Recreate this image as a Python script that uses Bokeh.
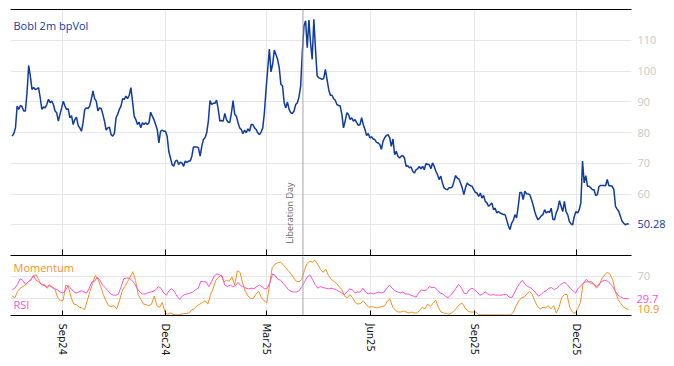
import pandas as pd
from bokeh.plotting import figure
from bokeh.layouts import column
from bokeh.models import (Span, Label, FixedTicker, MonthsTicker, DatetimeTickFormatter,
                          DatetimeAxis, LinearAxis, Range1d, CustomJSTickFormatter, PrintfTickFormatter)
from bokeh.embed import file_html
from bokeh.resources import INLINE

# ---------------- data ----------------
START = "2024-07-18"
END = "2026-01-16"
LIBERATION_DAY = "2025-04-02"

vol = [78.8, 79.7, 81.5, 88.6, 87.5, 88.8, 88.4, 87.0, 87.0, 93.0, 101.8, 98.4, 94.0, 94.6, 94.0, 94.2, 94.6, 91.3,
       87.5, 88.3, 88.0, 89.1, 90.8, 89.7, 90.2, 89.1, 87.0, 86.4, 83.7, 85.9, 88.0, 90.2, 88.6, 87.5, 87.7, 84.8,
       85.5, 82.6, 84.2, 85.0, 82.3, 81.5, 80.4, 83.2, 87.5, 88.0, 87.8, 88.6, 90.8, 93.5, 91.0, 90.2, 87.0, 88.0,
       87.8, 85.9, 83.7, 80.8, 81.5, 81.7, 79.3, 78.8, 79.7, 84.8, 85.9, 87.5, 88.6, 91.0, 90.8, 91.8, 91.0, 92.1,
       94.6, 90.2, 85.3, 84.2, 82.6, 83.4, 81.5, 83.2, 82.6, 83.2, 82.6, 83.2, 86.6, 85.3, 84.2, 82.6, 81.0, 76.6,
       80.4, 80.8, 80.4, 80.4, 78.8, 73.9, 71.7, 69.6, 69.0, 70.7, 71.0, 69.6, 70.3, 70.1, 69.0, 70.7, 70.3, 70.7,
       70.7, 72.3, 75.3, 75.3, 75.3, 75.0, 72.3, 75.5, 77.7, 78.3, 79.9, 83.7, 90.4, 89.1, 89.5, 89.5,
       90.5, 87.5, 83.7, 83.9, 83.7, 86.2, 84.2, 83.4, 83.2, 86.4, 90.4, 85.9, 85.3, 83.2, 81.5, 81.0, 79.6, 80.8,
       79.9, 81.2, 80.4, 82.6, 82.6, 81.5, 81.0, 79.9, 79.3, 80.1, 81.5, 86.4, 94.0, 100.5, 107.1, 99.7, 102.2,
       106.8, 105.4, 103.8, 101.1, 95.7, 95.1, 89.7, 88.0, 89.9, 87.5, 86.4, 86.2, 87.0, 89.1, 89.7, 91.6, 95.1,
       106.0, 114.7, 116.3, 107.6, 116.6, 109.2, 103.8, 116.8, 107.1, 98.4, 97.8, 97.6, 97.3, 97.6, 100.5, 97.3,
       94.0, 92.1, 92.1, 91.0, 90.5, 89.1, 88.8, 88.6, 85.9, 81.5, 83.7, 86.4, 85.9, 84.2, 84.8, 83.7, 84.2, 83.2,
       82.3, 82.6, 84.8, 82.6, 81.0, 79.0, 79.7, 78.3, 78.6, 77.9, 77.7, 76.8, 76.6, 76.1, 74.5, 77.2, 78.3, 79.0,
       79.3, 78.3, 75.5, 77.9, 72.8, 73.9, 72.3, 71.7, 72.3, 72.5, 71.7, 69.0, 69.2, 68.5, 68.8, 67.4, 66.8, 67.9,
       68.2, 69.0, 68.2, 69.0, 67.9,
       69.9, 69.6, 69.6, 68.2, 70.1, 69.0, 67.4, 66.3, 64.7, 65.8, 63.6, 62.0, 61.6, 61.4, 62.0, 62.0, 62.3, 64.1,
       66.0, 65.2, 64.9, 63.6, 62.0, 59.8, 62.0, 63.6, 63.0, 62.7, 62.5, 61.4, 60.5, 60.3, 59.2, 60.3, 58.7, 59.5,
       57.6, 57.1, 56.0, 56.5, 57.1, 54.9, 55.4, 53.8, 54.3, 53.8, 53.6, 53.3, 53.3, 51.6, 49.7, 48.4, 50.5, 51.4,
       53.3, 52.2, 56.0, 60.5, 60.5, 58.2, 60.9, 60.1, 60.0, 59.8, 58.2, 56.5, 54.3, 52.7, 51.6, 52.2, 52.9, 53.3,
       54.9, 53.8, 54.3, 54.0, 55.4, 51.8, 51.6, 53.8, 55.1, 57.8, 56.0, 54.3, 57.6, 54.3, 53.3, 51.1, 50.3, 50.0,
       52.7, 54.3, 53.8, 54.9, 57.1, 70.7, 63.6, 66.0, 62.5, 62.5, 62.0, 61.4, 61.4, 59.5, 59.8, 62.5, 62.8, 62.8,
       62.8, 62.7, 64.7, 62.7, 62.7, 62.5, 61.4, 56.0, 55.1, 54.3, 52.7, 51.1, 50.5, 50.0, 50.3, 50.28]

momentum = [35.0, 31.6, 42.9, 48.6, 51.4, 54.2, 59.9, 64.4, 71.2, 72.3, 62.7, 54.2, 55.4, 48.6, 53.1, 51.4, 45.8,
            31.6, 26.0, 27.1, 54.2, 51.4, 31.6, 20.3, 19.2, 14.7, 13.6, 10.2, 26.0, 42.9, 57.1, 71.2, 64.4, 51.4,
            37.3, 26.0, 17.5, 15.8, 17.5, 11.9, 26.0, 42.9, 51.4, 59.9, 68.4, 78.0, 62.7, 37.3, 28.8, 20.3, 19.2,
            17.5, 20.3, 34.5, 17.5, 14.7, 23.2, 6.2, 2.3, 4.5, 2.3, 1.1, 1.1, 2.3, 3.4, 3.4, 4.5, 10.2, 11.9, 17.5,
            20.3, 23.2, 26.0, 20.3, 37.3, 48.6, 62.7, 68.4,
            71.2, 59.9, 62.7, 61.0, 68.4, 54.2, 79.7, 76.8, 57.1, 42.9, 34.5, 30.5, 30.5, 38.4, 42.9, 31.6, 26.0,
            23.2, 54.2, 85.3, 91.0, 93.8, 94.9, 91.0, 85.3, 79.7, 74.0, 66.7, 61.0, 59.9, 64.4, 79.7, 92.7, 96.6,
            94.9, 98.3, 91.0, 82.5, 76.8, 82.5, 71.2, 64.4, 61.0, 57.1, 51.4, 45.8, 34.5, 31.6, 37.3, 31.6, 23.2,
            20.3, 21.5, 26.0, 20.3, 14.7, 15.8, 14.7, 13.6, 14.7, 15.8, 17.5, 26.0, 28.8, 14.7, 9.0, 6.2, 6.2, 7.9,
            6.2, 4.5, 6.2, 4.5, 4.5, 9.0, 14.7, 11.9,
            20.3, 15.8, 21.5, 27.1, 14.7, 6.2, 4.5, 3.4, 2.3, 4.5, 9.0, 14.7, 20.3, 21.5, 13.6, 7.9, 6.2, 6.2, 6.2,
            1.7, 1.1, 1.1, 1.1, 1.1, 1.1, 1.1, 1.1, 1.1, 1.1, 1.1, 1.1, 1.1, 6.2, 17.5, 26.0, 31.6, 32.8,
            38.4, 42.9, 37.3, 26.0, 15.8, 11.9, 14.7, 13.6, 17.5, 11.9, 17.5, 4.5, 14.7, 31.6, 37.3, 37.3, 14.7,
            6.2, 3.4, 11.9, 23.2, 57.1, 59.9, 59.9, 61.0, 55.4, 48.6, 54.2, 65.5, 72.3, 76.8, 74.0, 64.4, 42.9,
            28.8, 21.5, 15.8, 11.9, 10.9]

rsi = [45.8, 48.6, 55.4, 65.5, 62.7, 55.4, 59.9, 62.7, 71.2, 62.7, 59.9, 55.4, 53.1, 51.4, 54.2, 49.7, 47.5, 45.8,
       41.8, 40.1, 44.1, 53.1, 48.6, 42.9, 40.1, 41.8, 44.1, 41.8, 40.1, 48.6, 59.9, 61.0, 68.4, 62.7, 54.2, 49.7,
       44.1, 38.4, 36.2, 36.2, 38.4, 51.4, 65.5, 66.7, 66.7, 62.7, 57.1, 48.6, 41.8, 38.4, 38.4, 40.1, 41.8, 42.9,
       45.8, 51.4, 48.6, 40.1, 36.2, 44.1, 47.5, 42.9, 34.5, 28.8, 34.5, 37.3, 38.4, 40.1, 41.8, 45.8, 48.6, 61.0,
       59.9, 59.9, 51.4, 59.9, 70.0, 74.0, 72.3,
       70.0, 54.2, 51.4, 54.2, 51.4, 53.1, 58.8, 53.1, 51.4, 48.6, 47.5, 48.6, 47.5, 51.4, 54.2, 51.4, 47.5, 48.6,
       58.8, 74.0, 71.2, 64.4, 62.7, 57.1, 51.4, 45.8, 42.9, 41.8, 41.8, 44.1, 51.4, 59.9, 68.4, 72.3, 64.4, 55.4,
       48.6, 51.4, 49.7, 48.6, 47.5, 48.6, 47.5, 45.8, 42.9, 40.1, 37.3, 41.8, 47.5, 45.8, 40.1, 41.8, 41.8, 48.6,
       41.8, 38.4, 40.1, 38.4, 40.1, 41.8, 40.1, 41.8, 48.6, 54.2, 48.6, 44.1, 41.8, 40.1, 41.8, 38.4, 38.4, 36.2,
       34.5, 32.8, 40.1, 45.8, 44.1,
       45.8, 51.4, 49.7, 49.7, 45.8, 40.1, 38.4, 34.5, 31.6, 36.2, 41.8, 48.6, 55.4, 49.7, 40.1, 38.4, 45.8, 48.6,
       45.8, 41.8, 36.2, 38.4, 41.8, 38.4, 36.2, 37.3, 36.2, 36.2, 36.2, 37.3, 37.3, 32.8, 31.6, 40.1, 49.7, 57.1,
       62.7, 55.4, 51.4, 49.7, 45.8, 40.1, 34.5, 37.3, 41.8, 44.1, 48.6, 49.7, 45.8, 48.6, 53.1, 57.1, 58.8, 54.2,
       48.6, 44.1, 40.1, 48.6, 53.1, 57.1, 64.4, 59.9, 57.1, 55.4, 51.4, 57.1, 61.0, 62.7, 61.0, 57.1, 51.4, 42.9,
       36.2, 32.8, 30.5, 29.9, 29.7]

vol_ticks = [50, 60, 70, 80, 90, 100, 110]
osc_ticks = [30, 70]
tick_months = [2, 5, 8, 11]   # Mar, Jun, Sep, Dec (0-based)

# ---------------- style ----------------
BLUE = "#0f3a9e"
ORANGE = "#f7901e"
MAGENTA = "#ff4fd8"
GRID = "#e6e6e6"
TICKGRAY = "#c8c8c8"
FONT = "Open Sans"


def dates(n):
    return pd.date_range(START, END, periods=n)


def style_right_axis(ax, color, standoff):
    ax.axis_line_color = None
    ax.major_tick_line_color = None
    ax.minor_tick_line_color = None
    ax.major_tick_out = 0
    ax.major_tick_in = 0
    ax.major_label_text_color = color
    ax.major_label_text_font = FONT
    ax.major_label_text_font_size = "11px"
    ax.major_label_standoff = standoff


x_range = Range1d(pd.Timestamp("2024-07-16 12:00").to_pydatetime(),
                  pd.Timestamp("2026-01-18 12:00").to_pydatetime())
x_start = x_range.start
lib_dt = pd.Timestamp(LIBERATION_DAY).to_pydatetime()
months_ticker = MonthsTicker(months=tick_months)
empty_fmt = CustomJSTickFormatter(code="return ''")

# ---------------- top panel ----------------
p1 = figure(width=672, height=256, x_axis_type="datetime", y_axis_location="right",
            x_range=x_range, y_range=Range1d(40, 120), output_backend="svg",
            toolbar_location=None, min_border_left=10, min_border_right=41,
            min_border_top=9, min_border_bottom=1)
p1.outline_line_color = None

xa = p1.xaxis[0]
xa.ticker = months_ticker
xa.formatter = empty_fmt
xa.major_label_text_font_size = "0px"
xa.major_label_standoff = 0
xa.major_tick_in = 6
xa.major_tick_out = 0
xa.minor_tick_line_color = None
xa.axis_line_color = "black"
xa.major_tick_line_color = "black"

top_ax = DatetimeAxis(ticker=FixedTicker(ticks=[]), formatter=empty_fmt,
                      major_label_text_font_size="0px", major_label_standoff=0,
                      major_tick_in=0, major_tick_out=0, minor_tick_line_color=None,
                      major_tick_line_color=None, axis_line_color="black")
p1.add_layout(top_ax, "above")

ya = p1.yaxis[0]
ya.ticker = FixedTicker(ticks=vol_ticks)
ya.major_label_overrides = {50: ""}
style_right_axis(ya, TICKGRAY, 6)

last_vol_ax = LinearAxis(ticker=FixedTicker(ticks=[vol[-1]]), formatter=PrintfTickFormatter(format="%.2f"))
style_right_axis(last_vol_ax, BLUE, -22)
p1.add_layout(last_vol_ax, "right")

p1.xgrid.ticker = months_ticker
p1.ygrid.ticker = FixedTicker(ticks=vol_ticks)
p1.xgrid.grid_line_color = GRID
p1.ygrid.grid_line_color = GRID

p1.add_layout(Span(location=lib_dt, dimension="height", line_color="#a6a6a6", line_width=1))
p1.line(dates(len(vol)), vol, line_color=BLUE, line_width=1.5)

p1.add_layout(Label(x=x_start, y=120, text="Bobl 2m bpVol", x_offset=3, y_offset=-8,
                    text_baseline="top", text_color=BLUE, text_font=FONT, text_font_size="11px"))
p1.add_layout(Label(x=lib_dt, y=40, text="Liberation Day", angle=90, angle_units="deg",
                    text_align="left", text_baseline="bottom", x_offset=-7, y_offset=12,
                    text_color="#666666", text_font=FONT, text_font_size="9px"))

# ---------------- bottom panel ----------------
p2 = figure(width=672, height=102, x_axis_type="datetime", y_axis_location="right",
            x_range=x_range, y_range=Range1d(0, 105), output_backend="svg",
            toolbar_location=None, min_border_left=10, min_border_right=41,
            min_border_top=0, min_border_bottom=41)
p2.outline_line_color = None

xb = p2.xaxis[0]
xb.ticker = months_ticker
xb.formatter = DatetimeTickFormatter(months="%b%y", days="%b%y", years="%b%y")
xb.major_label_orientation = "vertical"
xb.major_label_text_font = "DejaVu Sans"
xb.major_label_text_font_size = "10px"
xb.major_label_text_color = "#111111"
xb.major_label_standoff = 8
xb.major_tick_in = 5
xb.major_tick_out = 0
xb.minor_tick_line_color = None
xb.axis_line_color = "black"
xb.major_tick_line_color = "black"

yb = p2.yaxis[0]
yb.ticker = FixedTicker(ticks=osc_ticks)
yb.major_label_overrides = {30: ""}
style_right_axis(yb, TICKGRAY, 6)

last_rsi_ax = LinearAxis(ticker=FixedTicker(ticks=[rsi[-1]]), formatter=PrintfTickFormatter(format="%.1f"))
style_right_axis(last_rsi_ax, MAGENTA, -17)
p2.add_layout(last_rsi_ax, "right")
last_mom_ax = LinearAxis(ticker=FixedTicker(ticks=[momentum[-1]]), formatter=PrintfTickFormatter(format="%.1f"))
style_right_axis(last_mom_ax, ORANGE, -24)
p2.add_layout(last_mom_ax, "right")

p2.xgrid.ticker = months_ticker
p2.ygrid.ticker = FixedTicker(ticks=osc_ticks)
p2.xgrid.grid_line_color = GRID
p2.ygrid.grid_line_color = GRID

p2.add_layout(Span(location=lib_dt, dimension="height", line_color="#a6a6a6", line_width=1))
p2.line(dates(len(momentum)), momentum, line_color=ORANGE, line_width=1)
p2.line(dates(len(rsi)), rsi, line_color=MAGENTA, line_width=1)

p2.add_layout(Label(x=x_start, y=105, text="Momentum", x_offset=3, y_offset=-3,
                    text_baseline="top", text_color=ORANGE, text_font=FONT, text_font_size="11px"))
p2.add_layout(Label(x=x_start, y=0, text="RSI", x_offset=3, y_offset=11,
                    text_baseline="middle", text_color=MAGENTA, text_font=FONT, text_font_size="11px"))

layout = column(p1, p2, spacing=0)
open("out.html", "w").write(file_html(layout, INLINE))
